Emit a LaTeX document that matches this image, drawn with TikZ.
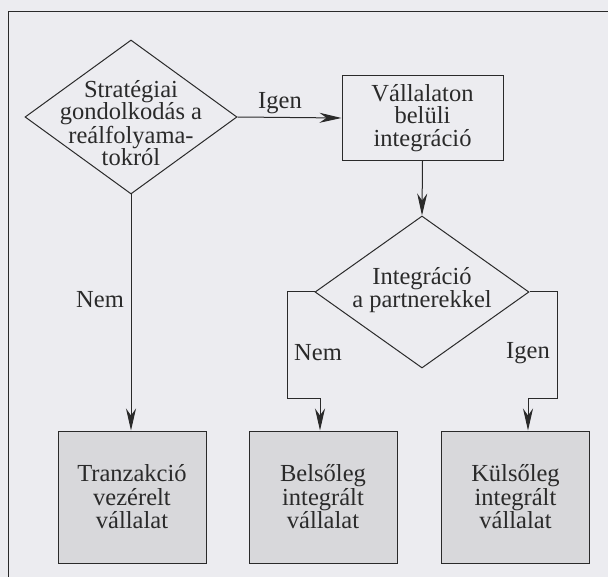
\documentclass[tikz,border=0pt]{standalone}
\usepackage{fontspec}
\setmainfont{Liberation Serif}
\usetikzlibrary{shapes.geometric,positioning,arrows.meta}

\definecolor{paper}{HTML}{ECECF0}
\definecolor{shade}{HTML}{D8D8DB}
\definecolor{ink}{HTML}{2A2A2A}

\begin{document}
\begin{tikzpicture}[x=1pt,y=-1pt,ink,line width=1pt,
    font=\fontsize{24.5}{22.5}\selectfont,
    dec/.style={draw,diamond,inner sep=0pt},
    proc/.style={draw,rectangle,inner sep=0pt,align=center},
    outbox/.style={proc,fill=shade,minimum width=148pt,minimum height=132pt,
      font=\fontsize{24.5}{23.5}\selectfont},
    txt/.style={align=center,inner sep=0pt},
    arr/.style={-{Stealth[length=22pt,width=10pt,inset=7pt]}}]
        \fill[paper] (0,0) rectangle (608,577);
        \useasboundingbox (0,0) rectangle (608,577);
        % frame
        \draw (8,577) -- (8,12) -- (608,12);

        \node[dec,minimum width=212pt,minimum height=154pt] (strat) at (131,117) {};
        \node[txt] (strattxt) at (131,123) {Stratégiai\\gondolkodás a\\reálfolyama-\\tokról};

        \node[proc,minimum width=161pt,minimum height=85pt] (belul) at (422.5,118) {Vállalaton\\belüli\\integráció};

        \node[dec,minimum width=214pt,minimum height=152pt] (integ) at (422,292) {};
        \node[txt] (integtxt) at (422,290) {Integráció\\a partnerekkel};

        \node[outbox] (tranz) at (132,497) {Tranzakció\\vezérelt\\vállalat};
        \node[outbox] (belso) at (323,497) {Belsőleg\\integrált\\vállalat};
        \node[outbox] (kulso) at (515.5,497) {Külsőleg\\integrált\\vállalat};

        \coordinate (lb) at (287,398);
        \coordinate (lt) at (320,398);
        \coordinate (rb) at (557,398);
        \coordinate (rt) at (528,398);

        \draw[arr] (strat.east) -- (belul.west);
        \draw[arr] (belul.south) -- (integ.north);
        \draw[arr] (strat.south) -- (strat.south |- tranz.north);
        \draw[arr] (integ.west) -| (lb) -- (lt) -- (lt |- belso.north);
        \draw[arr] (integ.east) -| (rb) -- (rt) -- (rt |- kulso.north);

        \node[txt] (igen1) at (280,103) {Igen};
        \node[txt] (nem1) at (100,300) {Nem};
        \node[txt] (nem2) at (318,353) {Nem};
        \node[txt] (igen2) at (528,353) {Igen};
      \end{tikzpicture}
\end{document}
